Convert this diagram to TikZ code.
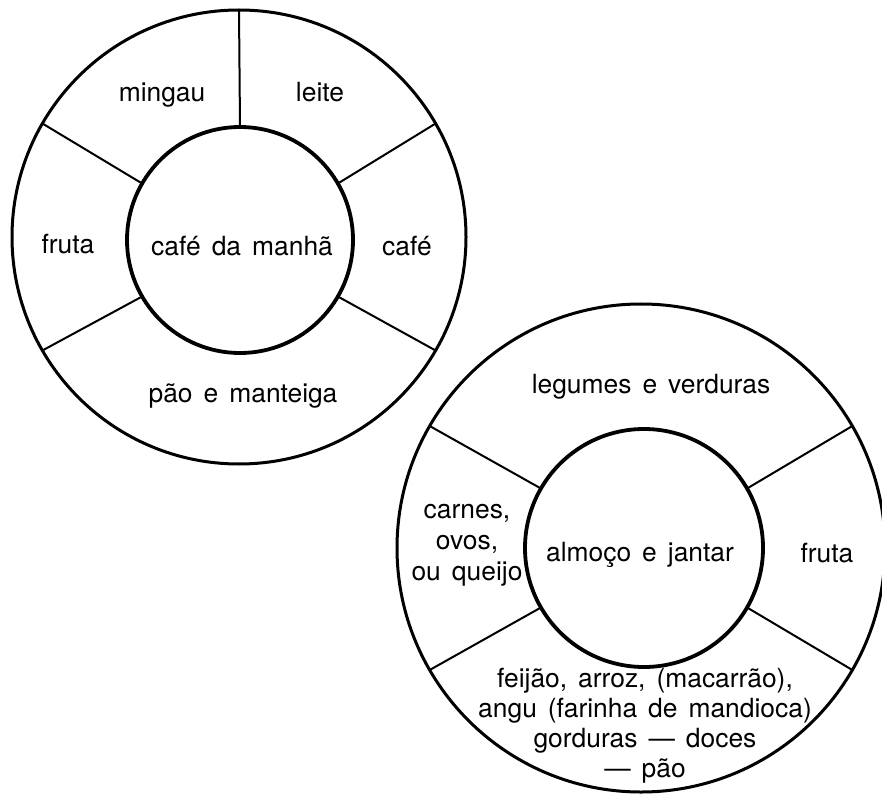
\documentclass[tikz,border=0pt]{standalone}
\usepackage{fontspec}
\setmainfont{TeX Gyre Heros}[WordSpace=1.5]
\usepackage{tikz}
\tikzstyle{ring}=[circle,draw,line width=1.5pt,inner sep=0pt,outer sep=0pt]
\tikzstyle{hub}=[ring,line width=1.9pt]
\tikzstyle{spoke}=[draw,line width=1pt]
\tikzstyle{food}=[font=\fontsize{13.2}{15.5}\selectfont,inner sep=0pt,align=center]

\begin{document}
\begin{tikzpicture}[x=0.5pt,y=-0.5pt]
    \useasboundingbox (0,0) rectangle (882,796);
    % breakfast ring
    \node[ring,minimum size=227pt] (outerA) at (239,237) {};
    \node[hub,minimum size=113pt] (hubA) at (240,240) {};
    \foreach \ang in {30,90,150,210,330}
        \path[spoke] (hubA.\ang) -- (outerA.\ang);
    \foreach \pos/\name/\txt in {{(162,102)/mingau/mingau}, {(320,102)/leite/leite}, {(68,254)/fruitA/fruta}, {(242,256)/breakfast/café da manhã}, {(407,256)/coffee/café}, {(243,402)/bread/pão e manteiga}}
        \node[food,anchor=base] (\name) at \pos {\txt};
    % lunch and dinner ring
    \node[ring,minimum size=244pt] (outerB) at (641,548) {};
    \node[hub,minimum size=119pt] (hubB) at (644,548) {};
    \foreach \ang in {30,150,210,330}
        \path[spoke] (hubB.\ang) -- (outerB.\ang);
    \foreach \pos/\name/\txt in {{(651,393)/greens/legumes e verduras}, {(640,561)/lunch/almoço e jantar}, {(827,562)/fruitB/fruta}}
        \node[food,anchor=base] (\name) at \pos {\txt};
    \node[food] (meat) at (467,545) {carnes,\\ovos,\\ou queijo};
    \node[food,font=\fontsize{13.2}{15}\selectfont] (beans) at (645,726) {feijão, arroz, (macarrão),\\angu (farinha de mandioca)\\gorduras — doces\\— pão};
\end{tikzpicture}
\end{document}
